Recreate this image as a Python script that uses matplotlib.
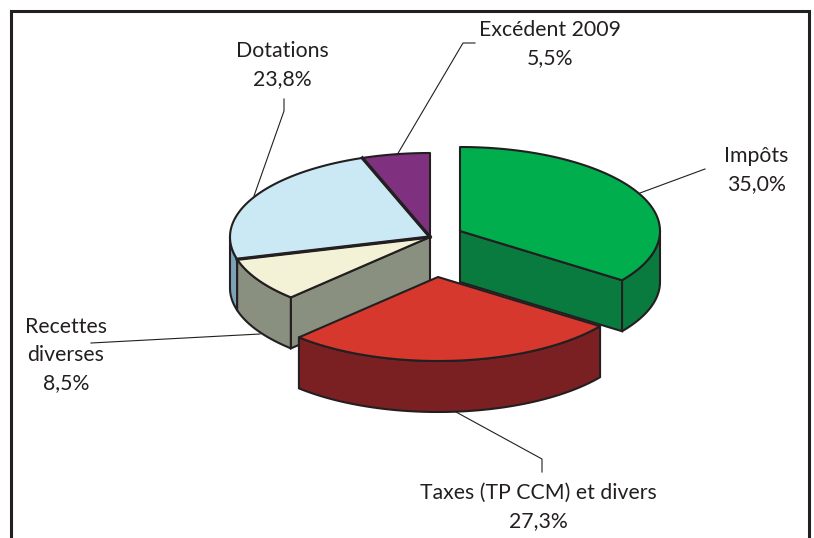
#!/usr/bin/env python3
import numpy as np
import matplotlib
matplotlib.use("Agg")
import matplotlib.pyplot as plt

# parts du budget, sens horaire depuis midi
names = ["Impôts", "Taxes (TP CCM) et divers", "Recettes\ndiverses", "Dotations", "Excédent 2009"]
shares = [35.0, 27.3, 8.5, 23.8, 5.5]
share_labels = ["35,0%", "27,3%", "8,5%", "23,8%", "5,5%"]

top_colors = ["#00AE4D", "#D6382D", "#F3F2D6", "#CAE9F5", "#7F3180"]
wall_colors = ["#0A7B3E", "#7B2022", "#8A9080", "#7BA3B5", "#5A2060"]
cut_colors = ["#0A7B3E", "#7B2022", "#8A9080", "#8A9080", "#5A2060"]

# centre de chaque part (pixels de l'image)
centers_x = [460, 438, 430, 430, 430]
centers_y = [231, 277, 237, 237, 237]
RX, RY, DEPTH = 200, 84, 51
INK = "#231F20"

label_x = [756, 538, 66, 282, 550]
label_y = [170, 507, 355, 65, 44]

# lignes de rappel
leaders_x = [[640, 705], [456, 542, 542], [91, 260], [254, 284, 284], [397, 463, 475]]
leaders_y = [[193, 169], [412, 459, 472], [343, 334], [196, 111, 99], [155, 43, 43]]


def rim(a0, a1, cx, cy):
    t = np.radians(np.linspace(a0, a1, 80))
    return cx + RX * np.sin(t), cy - RY * np.cos(t)


def draw_wall(ax, a0, a1, cx, cy, color):
    # paroi extérieure visible (partie basse de l'ellipse)
    a0, a1 = max(a0, 90), min(a1, 270)
    if a1 <= a0:
        return
    x, y = rim(a0, a1, cx, cy)
    ax.fill(np.r_[x, x[::-1]], np.r_[y, y[::-1] + DEPTH], fc=color, ec=INK, lw=1.5, joinstyle="round")


def draw_cut(ax, angle, cx, cy, color):
    # face de coupe radiale
    x, y = rim(angle, angle, cx, cy)
    ax.fill([cx, x[0], x[0], cx], [cy, y[0], y[0] + DEPTH, cy + DEPTH], fc=color, ec=INK, lw=1.5)


def draw_top(ax, a0, a1, cx, cy, color, lw=1.5):
    x, y = rim(a0, a1, cx, cy)
    ax.fill(np.r_[cx, x], np.r_[cy, y], fc=color, ec=INK, lw=lw, joinstyle="round")


fig = plt.figure(figsize=(8.14, 5.38), dpi=100)
ax = fig.add_axes([0, 0, 1, 1])
ax.set_xlim(0, 814)
ax.set_ylim(538, 0)
ax.axis("off")

plt.rcParams["font.family"] = ["Lato", "DejaVu Sans"]

# cadre sans bas
ax.plot([10.5, 10.5, 808.5, 808.5], [538, 10.5, 10.5, 538], color=INK, lw=2.2, solid_joinstyle="miter")

for lx, ly in zip(leaders_x, leaders_y):
    ax.plot(lx, ly, color=INK, lw=0.8)

edges = np.cumsum(np.r_[0, shares]) / np.sum(shares) * 360

# le corps principal d'abord, puis les deux parts détachées
for i in [4, 3, 2]:
    draw_wall(ax, edges[i], edges[i + 1], centers_x[i], centers_y[i], wall_colors[i])
draw_cut(ax, edges[2], centers_x[2], centers_y[2], cut_colors[2])
for i in [2, 3, 4]:
    draw_top(ax, edges[i], edges[i + 1], centers_x[i], centers_y[i], top_colors[i])
for a in [edges[3], edges[4]]:
    x, y = rim(a, a, centers_x[3], centers_y[3])
    ax.plot([centers_x[3], x[0]], [centers_y[3], y[0]], color=INK, lw=2.4)

draw_cut(ax, edges[1], centers_x[0], centers_y[0], cut_colors[0])
draw_wall(ax, edges[0], edges[1], centers_x[0], centers_y[0], wall_colors[0])
draw_top(ax, edges[0], edges[1], centers_x[0], centers_y[0], top_colors[0])

draw_wall(ax, edges[1], edges[2], centers_x[1], centers_y[1], wall_colors[1])
draw_top(ax, edges[1], edges[2], centers_x[1], centers_y[1], top_colors[1])

for i in range(len(names)):
    ax.text(label_x[i], label_y[i], names[i] + "\n" + share_labels[i], ha="center", va="center",
            fontsize=15.3, color=INK, linespacing=1.5)

fig.savefig("out.png", dpi=100)
